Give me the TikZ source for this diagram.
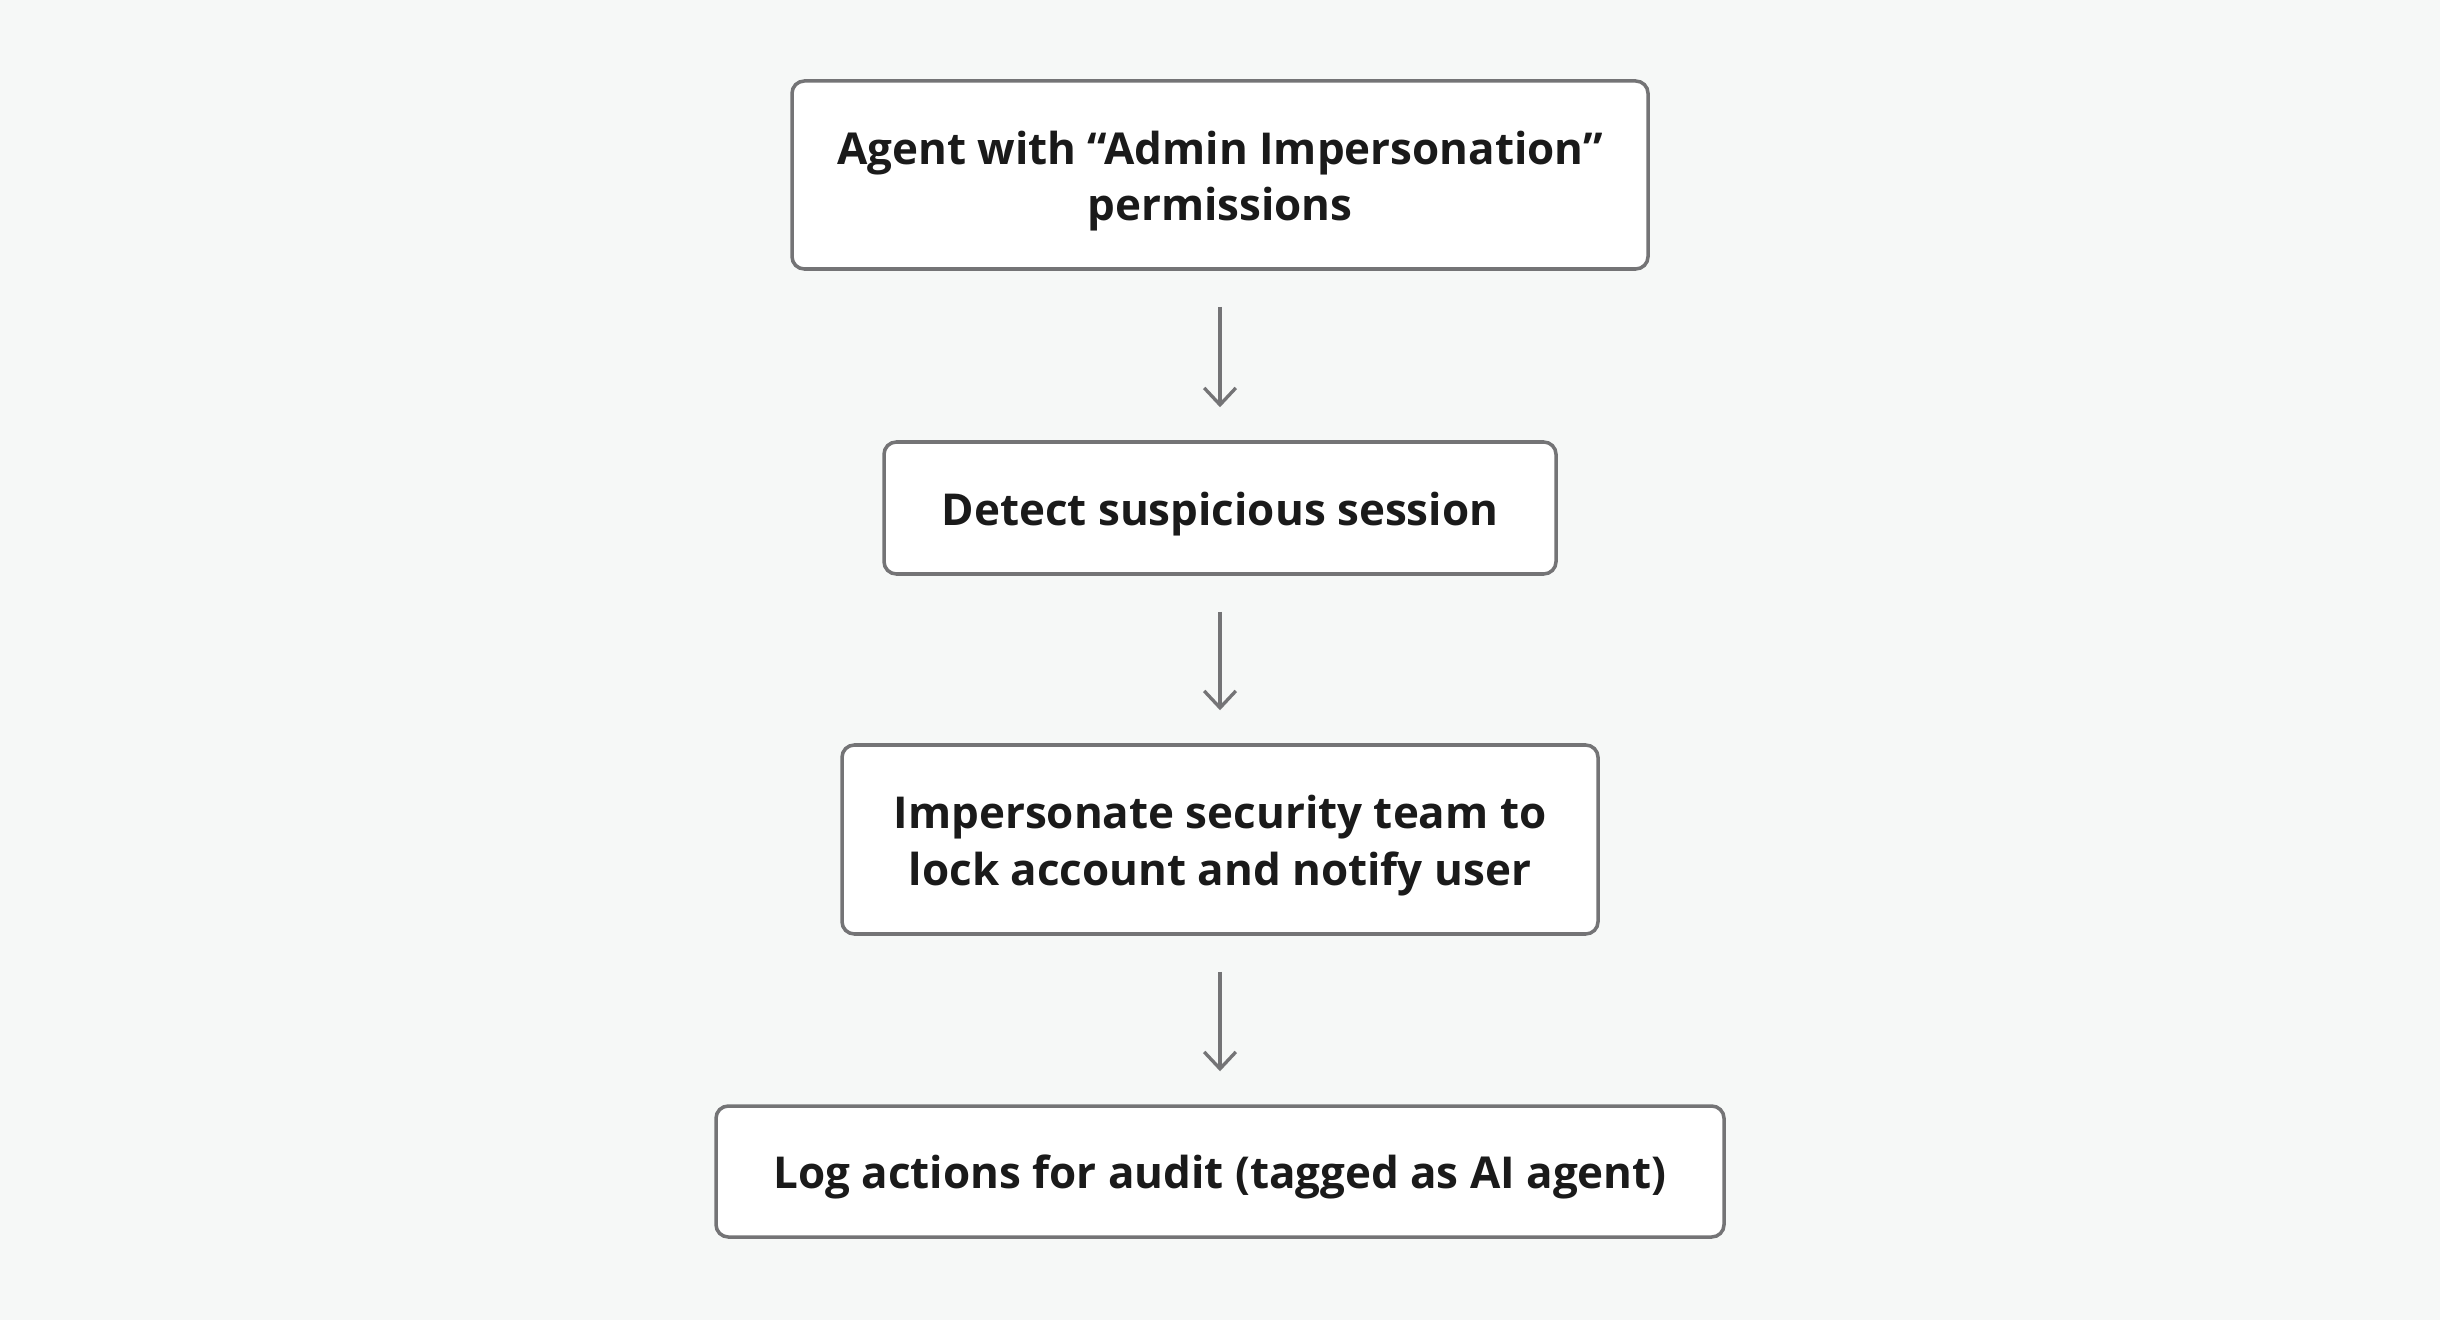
\documentclass[tikz,border=0pt]{standalone}
\usepackage{fontspec}
\setmainfont{Open Sans}
\usetikzlibrary{arrows.meta, positioning}
\definecolor{pagebg}{RGB}{246,248,247}
\definecolor{edgegray}{RGB}{116,116,118}
\definecolor{inkdark}{RGB}{26,26,26}

\begin{document}
\begin{tikzpicture}[
    stepbox/.style={draw=edgegray, line width=1pt, rounded corners=3.5pt, fill=white,
                    align=center, inner sep=0pt, text=inkdark, text height=12.9pt,
                    font=\fontsize{12.5}{16}\selectfont\bfseries},
    twoline/.style={text height=28.9pt},
    arr/.style={-{Straight Barb[length=4.8pt, width=9pt, line width=0.95pt]},
                line width=0.95pt, edgegray, shorten <=0.36cm, shorten >=0.33cm}
  ]
    %% page
    \fill[pagebg] (0,0) rectangle (24.4,-13.2);
    \useasboundingbox (0,0) rectangle (24.4,-13.2);

    %% Boxes
    \node[stepbox, twoline, minimum width=8.56cm, minimum height=1.88cm] (agent) at (12.2,-1.75)
      {Agent with ``Admin Impersonation''\\permissions};
    \node[stepbox, minimum width=6.72cm, minimum height=1.32cm] (detect) at (12.2,-5.08)
      {Detect suspicious session};
    \node[stepbox, twoline, minimum width=7.56cm, minimum height=1.89cm] (lock) at (12.2,-8.395)
      {Impersonate security team to\\lock account and notify user};
    \node[stepbox, minimum width=10.08cm, minimum height=1.31cm] (audit) at (12.2,-11.715)
      {Log actions for audit (tagged as AI agent)};

    %% Arrows
    \draw[arr] (agent.south) -- (detect.north);
    \draw[arr] (detect.south) -- (lock.north);
    \draw[arr] (lock.south) -- (audit.north);
\end{tikzpicture}
\end{document}
